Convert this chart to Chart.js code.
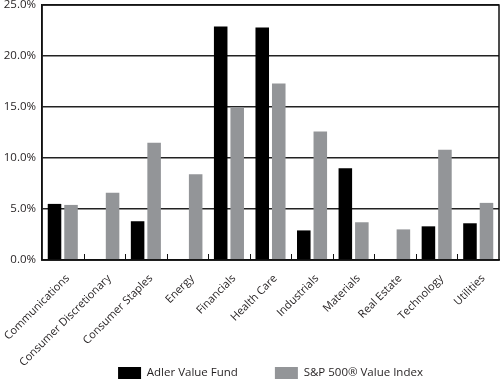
<!DOCTYPE html>
<html>
<head>
<meta charset="utf-8">
<script src="https://cdn.jsdelivr.net/npm/chart.js@4"></script>
<style>
  html, body { margin: 0; padding: 0; background: #fff; }
  #wrap { width: 500px; height: 382px; position: relative; }
</style>
</head>
<body>
<div id="wrap"><canvas id="c" width="500" height="382"></canvas></div>
<script>
const categories = ["Communications", "Consumer Discretionary", "Consumer Staples", "Energy", "Financials", "Health Care", "Industrials", "Materials", "Real Estate", "Technology", "Utilities"];
const adlerValues = [5.5, null, 3.8, null, 22.9, 22.8, 2.9, 9.0, null, 3.3, 3.6];
const indexValues = [5.4, 6.6, 11.5, 8.4, 15.0, 17.3, 12.6, 3.7, 3.0, 10.8, 5.6];
const seriesNames = ["Adler Value Fund", "S&P 500\u00AE Value Index"];
const yTickValues = [0, 5, 10, 15, 20, 25];

const frameAndTicks = {
  id: 'frameAndTicks',
  beforeDraw(chart) {
    // let rotated category labels extend below the (shortened) axis box
    chart.scales.x._computeLabelArea = () => undefined;
  },
  afterDatasetsDraw(chart) {
    const {ctx, chartArea: a, scales: {x}} = chart;
    ctx.save();
    ctx.strokeStyle = '#111';
    ctx.lineWidth = 1;
    for (let i = 1; i < categories.length; i++) {
      const px = Math.round((x.getPixelForValue(i - 1) + x.getPixelForValue(i)) / 2) + 0.5;
      ctx.beginPath();
      ctx.moveTo(px, a.bottom);
      ctx.lineTo(px, a.bottom - 6);
      ctx.stroke();
    }
    ctx.lineWidth = 1.5;
    ctx.strokeRect(a.left, a.top, a.right - a.left, a.bottom - a.top);
    ctx.restore();
  }
};

new Chart(document.getElementById('c'), {
  type: 'bar',
  data: {
    labels: categories,
    datasets: [
      { label: seriesNames[0], data: adlerValues, backgroundColor: '#000000', borderWidth: 0 },
      { label: seriesNames[1], data: indexValues, backgroundColor: '#939598', borderWidth: 0 }
    ]
  },
  options: {
    responsive: false,
    animation: false,
    devicePixelRatio: 1,
    categoryPercentage: 0.795,
    barPercentage: 0.82,
    layout: { padding: { top: 0, right: 1, left: 0, bottom: 0 } },
    plugins: {
      tooltip: { enabled: false },
      legend: {
        position: 'bottom',
        fullSize: false,
        maxHeight: 52,
        labels: {
          boxWidth: 23,
          boxHeight: 12,
          padding: 37,
          color: '#231f20',
          font: { family: 'Open Sans', size: 11.5 }
        }
      }
    },
    scales: {
      x: {
        offset: true,
        grid: { display: false },
        border: { display: true, color: '#111', width: 1.5 },
        ticks: {
          minRotation: 45,
          maxRotation: 45,
          autoSkip: false,
          padding: 4,
          labelOffset: 5,
          color: '#231f20',
          font: { family: 'Open Sans', size: 11 }
        },
        afterFit(scale) {
          scale.height = 70;
          scale.paddingLeft = 0;
          scale.paddingRight = 0;
        }
      },
      y: {
        min: 0,
        max: 25,
        afterBuildTicks(scale) {
          scale.ticks = yTickValues.map(v => ({ value: v }));
        },
        grid: { color: '#222', lineWidth: 1.4, drawTicks: false },
        border: { display: true, color: '#111', width: 1.5 },
        ticks: {
          padding: 6,
          color: '#231f20',
          font: { family: 'Open Sans', size: 11.5 },
          callback: v => Number(v).toFixed(1) + '%'
        },
        afterFit(scale) {
          scale.width = 42;
          scale.paddingTop = 5;
          scale.paddingBottom = 0;
        }
      }
    }
  },
  plugins: [frameAndTicks]
});
</script>
</body>
</html>
